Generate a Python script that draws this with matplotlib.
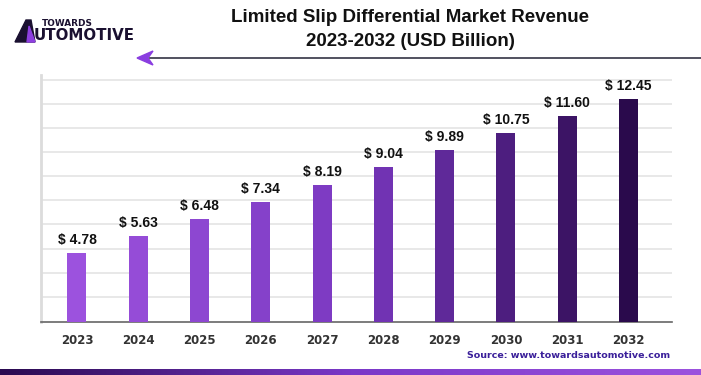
import matplotlib.pyplot as plt
import matplotlib.colors as mcolors
import numpy as np

years = ["2023", "2024", "2025", "2026", "2027", "2028", "2029", "2030", "2031", "2032"]
revenue = [4.78, 5.63, 6.48, 7.34, 8.19, 9.04, 9.89, 10.75, 11.60, 12.45]

fig = plt.figure(figsize=(7.01, 3.75), dpi=100)
W, H = 701., 375.

# axes box in pixels: left 41, right 672, top 75, bottom 322
ax = fig.add_axes([41 / W, 1 - 322 / H, (672 - 41) / W, (322 - 75) / H])

cmap = mcolors.LinearSegmentedColormap.from_list("p", ["#9c52de", "#7a38c0", "#2a0a4c"])
cols = [cmap(i / (len(years) - 1)) for i in range(len(years))]

x = np.arange(len(years))
ax.bar(x, revenue, width=0.31, color=cols, zorder=3)
for xi, v in zip(x, revenue):
    ax.text(xi, v + 0.3, "$ %.2f" % v, ha="center", va="bottom", fontsize=10,
            family="Liberation Sans", fontweight="bold", color="#111111")

ax.set_xlim(-0.587, 9.71)
ax.set_ylim(1.34, 13.65)
ax.set_yticks([13.4 - 1.2 * k for k in range(10)])
ax.yaxis.grid(True, color="#e4e4e4", linewidth=1.2, zorder=0)
ax.tick_params(axis="y", length=0, labelleft=False)
ax.set_xticks(x)
ax.set_xticklabels(years, fontsize=8.5, fontweight="bold", color="#333333")
ax.tick_params(axis="x", length=0, pad=9)
for s in ["top", "right"]:
    ax.spines[s].set_visible(False)
ax.spines["left"].set_color("#dcdcdc")
ax.spines["left"].set_linewidth(2)
ax.spines["bottom"].set_color("#666666")
ax.spines["bottom"].set_linewidth(1.2)

# title
fig.text(410 / W, 1 - 18 / H, "Limited Slip Differential Market Revenue", ha="center", va="center",
         fontsize=13.5, family="Liberation Sans", fontweight="bold", color="#111111")
fig.text(410 / W, 1 - 42 / H, "2023-2032 (USD Billion)", ha="center", va="center",
         fontsize=13.5, family="Liberation Sans", fontweight="bold", color="#111111")

# logo
fig.text(42 / W, 1 - 23 / H, "TOWARDS", ha="left", va="center", fontsize=6.4,
         fontweight="heavy", color="#1a1030")
fig.text(34 / W, 1 - 36 / H, "UTOMOTIVE", ha="left", va="center", fontsize=10.8,
         fontweight="heavy", color="#1a1030")
fig.patches.append(plt.Polygon([(15 / W, 1 - 42 / H), (26 / W, 1 - 20 / H), (31 / W, 1 - 20 / H),
                                (35 / W, 1 - 42 / H), (27 / W, 1 - 42 / H)],
                               closed=True, transform=fig.transFigure, color="#1a1030"))
fig.patches.append(plt.Polygon([(27 / W, 1 - 42 / H), (29 / W, 1 - 26 / H), (35 / W, 1 - 42 / H)],
                               closed=True, transform=fig.transFigure, color="#8e3fe0"))

# arrow line
fig.add_artist(plt.Line2D([150 / W, 1.0], [1 - 58 / H, 1 - 58 / H], transform=fig.transFigure,
                          color="#333344", linewidth=1.2))
fig.patches.append(plt.Polygon([(137 / W, 1 - 58 / H), (153 / W, 1 - 51 / H), (148 / W, 1 - 58 / H),
                                (153 / W, 1 - 65 / H)], closed=True, transform=fig.transFigure,
                               color="#8a3ee0"))

# source
fig.text(670 / W, 1 - 356 / H, "Source: www.towardsautomotive.com", ha="right", va="center",
         fontsize=6.8, fontweight="bold", color="#3a1f9a")

# bottom gradient strip
strip = fig.add_axes([0, 0, 1, 6 / H])
strip.imshow(np.linspace(0, 1, 256).reshape(1, -1), aspect="auto",
             cmap=mcolors.LinearSegmentedColormap.from_list("s", ["#2a0a50", "#7a38c8", "#9c52de"]))
strip.axis("off")

fig.savefig("out.png", dpi=100)
